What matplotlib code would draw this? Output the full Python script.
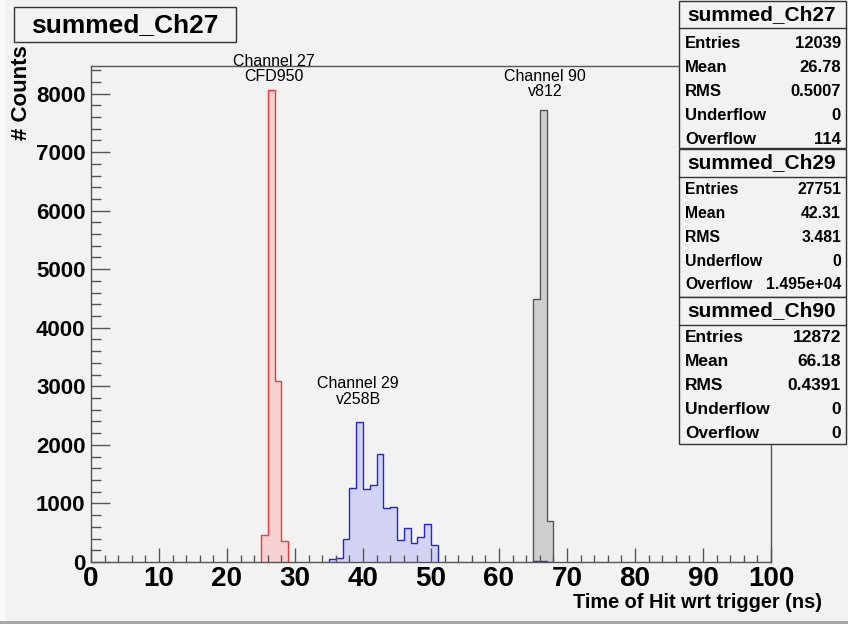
import numpy as np
import matplotlib
matplotlib.use('Agg')
import matplotlib.pyplot as plt
from matplotlib.patches import Rectangle

# Histogram contents (1 ns bins)
ch27_edges = [25, 26, 27, 28, 29]
ch27_counts = [460, 8065, 3090, 358]

ch29_edges = list(range(35, 52))
ch29_counts = [45, 70, 398, 1268, 2394, 1246, 1308, 1837, 927, 938,
               370, 586, 319, 427, 654, 290]
ch29_tail_edges = [65, 66, 67, 68]
ch29_tail_counts = [12, 18, 6]

ch90_edges = [65, 66, 67, 68]
ch90_counts = [4488, 7713, 705]

# Stat boxes
stat_names = ['Entries', 'Mean', 'RMS', 'Underflow', 'Overflow']
ch27_stats = ['12039', '26.78', '0.5007', '0', '114']
ch29_stats = ['27751', '42.31', '3.481', '0', '1.495e+04']
ch90_stats = ['12872', '66.18', '0.4391', '0', '0']

W, H = 848, 624
bg = '#f2f2f2'
BOLD = ['Liberation Sans', 'DejaVu Sans']

fig = plt.figure(figsize=(W / 100, H / 100), dpi=100, facecolor=bg)
ax = fig.add_axes([91 / W, 1 - 562 / H, 680 / W, 496 / H], facecolor=bg)


def px(x, y):
    # figure pixel (from top-left) -> figure fraction
    return x / W, 1 - y / H


def draw_hist(edges, counts, edge, fill):
    ax.stairs(counts, edges, fill=True, color=fill, baseline=0)
    ax.stairs(counts, edges, fill=False, color=edge, lw=1.0, baseline=0)


draw_hist(ch27_edges, ch27_counts, '#ff3333', '#f6d2d2')
draw_hist(ch29_edges, ch29_counts, '#2222ee', '#d2d3f2')
draw_hist(ch90_edges, ch90_counts, '#555555', '#cfcfcf')
ax.stairs(ch29_tail_counts, ch29_tail_edges, color='#2222ee', lw=1.0)

ax.set_xlim(0, 100)
ax.set_ylim(0, 8470)
ax.set_xticks(np.arange(0, 101, 10))
ax.set_xticks(np.arange(0, 101, 2), minor=True)
ax.set_yticks(np.arange(0, 8001, 1000))
ax.set_yticks(np.arange(0, 8401, 200), minor=True)
ax.tick_params(axis='x', which='major', direction='in', length=10, width=1,
               color='#555555', pad=3)
ax.tick_params(axis='x', which='minor', direction='in', length=5, width=1,
               color='#555555')
ax.tick_params(axis='y', which='major', direction='in', length=14, width=1,
               color='#555555', pad=4)
ax.tick_params(axis='y', which='minor', direction='in', length=7, width=1,
               color='#555555')
for lab in ax.get_xticklabels():
    lab.set_family(BOLD)
    lab.set_fontweight('bold')
    lab.set_fontsize(20)
for lab in ax.get_yticklabels():
    lab.set_family(BOLD)
    lab.set_fontweight('bold')
    lab.set_fontsize(16)
for s in ax.spines.values():
    s.set_color('#555555')
    s.set_linewidth(1)

# channel annotations
ax.text(26.9, 8418, 'Channel 27\nCFD950', ha='center', va='center',
        fontsize=11.5, family=BOLD, linespacing=1.05)
ax.text(39.3, 2908, 'Channel 29\nv258B', ha='center', va='center',
        fontsize=11.5, family=BOLD, linespacing=1.05)
ax.text(66.8, 8162, 'Channel 90\nv812', ha='center', va='center',
        fontsize=11.5, family=BOLD, linespacing=1.05)

# axis titles
fig.text(*px(822, 603), 'Time of Hit wrt trigger (ns)', ha='right', va='center',
         fontsize=14.3, fontweight='bold', family=BOLD)
fig.text(*px(22, 45), '# Counts', ha='center', va='top', rotation=90,
         fontsize=16, fontweight='bold', family=BOLD)

# title box
x0, y0 = px(14, 42)
fig.patches.append(Rectangle((x0, y0), 222 / W, 35 / H, transform=fig.transFigure,
                             facecolor=bg, edgecolor='#333333', lw=1))
fig.text(*px(125, 25), 'summed_Ch27', ha='center', va='center',
         fontsize=19, fontweight='bold', family=BOLD)


def stat_box(top, bottom, sep, title, values, rowsize, rows_y):
    bx0, by0 = px(679, bottom)
    fig.patches.append(Rectangle((bx0, by0), 167 / W, (bottom - top) / H,
                                 transform=fig.transFigure, facecolor=bg,
                                 edgecolor='#333333', lw=1, zorder=5))
    fig.add_artist(plt.Line2D([679 / W, 846 / W], [1 - sep / H] * 2,
                              color='#333333', lw=1, zorder=6))
    fig.text(*px(762, (top + sep) / 2), title, ha='center', va='center',
             fontsize=15, fontweight='bold', family=BOLD, zorder=7)
    for name, val, yy in zip(stat_names, values, rows_y):
        fig.text(*px(685, yy), name, ha='left', va='center', fontsize=rowsize,
                 fontweight='bold', family=BOLD, zorder=7)
        fig.text(*px(841, yy), val, ha='right', va='center', fontsize=rowsize,
                 fontweight='bold', family=BOLD, zorder=7)


stat_box(1, 148, 28, 'summed_Ch27', ch27_stats, 12, [43, 67, 91, 115, 139])
stat_box(149, 297, 177, 'summed_Ch29', ch29_stats, 11.3, [189, 213, 237, 261, 285])
stat_box(297, 444, 325, 'summed_Ch90', ch90_stats, 12.5, [337, 361, 385, 409, 433])

# canvas bevel
fig.patches.append(Rectangle((0, 0), 1, 3 / H, transform=fig.transFigure,
                             facecolor='#a8a8a8', edgecolor='none'))
fig.patches.append(Rectangle((0, 3 / H), 6 / W, 1, transform=fig.transFigure,
                             facecolor='#fafafa', edgecolor='none'))

fig.savefig('out.png', dpi=100, facecolor=bg)
